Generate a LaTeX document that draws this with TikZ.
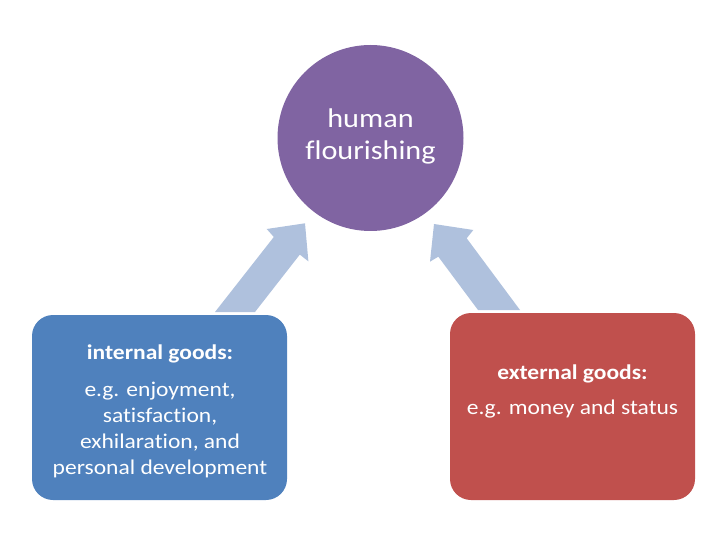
\documentclass[tikz,border=0pt]{standalone}
\usepackage{fontspec}
\setmainfont[FakeStretch=1.12, Ligatures={NoCommon}]{Carlito}
\definecolor{circpurple}{RGB}{128,100,162}
\definecolor{boxblue}{RGB}{79,129,189}
\definecolor{boxred}{RGB}{192,80,77}
\definecolor{arrowblue}{RGB}{175,193,221}
\begin{document}
\begin{tikzpicture}[x=1pt,y=-1pt,
  goodsbox/.style={rectangle, rounded corners=21pt, draw=none, inner sep=0pt},
  boxtext/.style={text=white, anchor=base, inner sep=0pt, font=\fontsize{21}{26}\selectfont},
  circtext/.style={text=white, anchor=base, inner sep=0pt, font=\fontsize{27}{32}\selectfont},
  blockarrow/.style={fill=arrowblue, draw=none}]
\useasboundingbox (0,0) rectangle (720,540);
% arrows
\fill[blockarrow] (215,312) -- (255,312) -- (299.8,254.6) -- (308.4,261.4) -- (305,223.3)
  -- (266.7,229) -- (273.8,237) -- cycle;
\fill[blockarrow] (478,310) -- (520,310) -- (466.7,238.3) -- (473.3,230) -- (434,224)
  -- (430,261.7) -- (438.3,256.7) -- cycle;
% circle
\node[circle, fill=circpurple, minimum size=186pt, inner sep=0pt] (hf) at (370.5,138) {};
\node[circtext] (hf1) at (370.5,127.3) {human};
\node[circtext] (hf2) at (370.5,159.5) {flourishing};
% left box
\node[goodsbox, fill=boxblue, minimum width=255pt, minimum height=185pt] (ig) at (159.5,407.5) {};
\node[boxtext] (ig1) at (160,359.3) {\bfseries internal goods:};
\node[boxtext] (ig2) at (160,396.3) {e.g. enjoyment,};
\node[boxtext] (ig3) at (160,422) {satisfaction,};
\node[boxtext] (ig4) at (160,448) {exhilaration, and};
\node[boxtext] (ig5) at (160,474) {personal development};
% right box
\node[goodsbox, fill=boxred, minimum width=245pt, minimum height=187pt] (eg) at (572.5,406.5) {};
\node[boxtext] (eg1) at (572.5,379.3) {\bfseries external goods:};
\node[boxtext] (eg2) at (572.5,414) {e.g. money and status};
\end{tikzpicture}
\end{document}
